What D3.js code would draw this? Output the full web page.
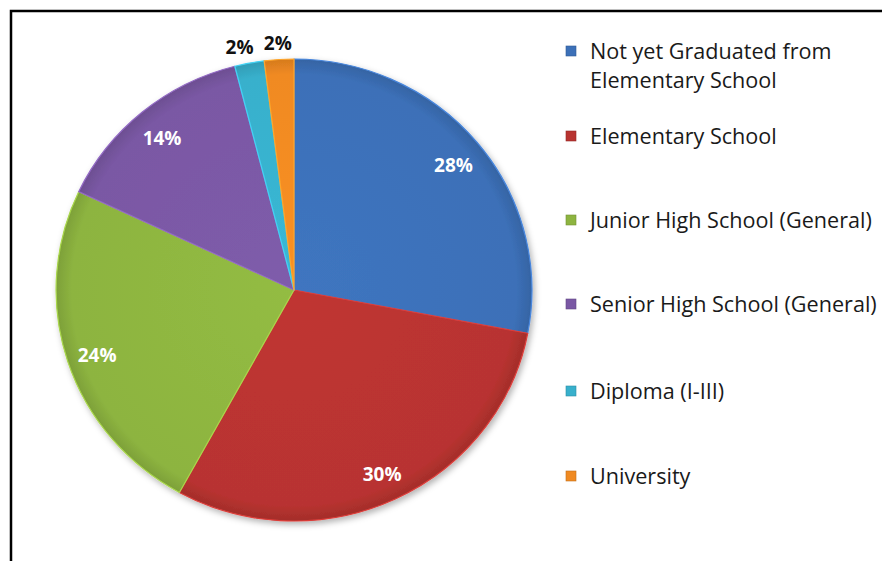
<!DOCTYPE html>
<html>
<head>
<meta charset="utf-8">
<script src="https://cdn.jsdelivr.net/npm/d3@7"></script>
<style>
  body { margin: 0; background: #fff; }
  svg { display: block; }
</style>
</head>
<body>
<svg id="chart" width="882" height="561"></svg>
<script>
// data
var categories = ["Not yet Graduated from Elementary School", "Elementary School", "Junior High School (General)",
  "Senior High School (General)", "Diploma (I-III)", "University"];
var legendLines = [["Not yet Graduated from", "Elementary School"], ["Elementary School"], ["Junior High School (General)"],
  ["Senior High School (General)"], ["Diploma (I-III)"], ["University"]];
var values = [28, 30, 24, 14, 2, 2];
var colours = ["#3c70b8", "#b83330", "#8db440", "#7a58a4", "#38b0cc", "#f08a22"];

var svg = d3.select("#chart");
var defs = svg.append("defs");

// frame
svg.append("rect")
  .attr("x", 11).attr("y", 11)
  .attr("width", 900).attr("height", 600)
  .attr("fill", "none").attr("stroke", "#000").attr("stroke-width", 2.5);

// shadow
var f = defs.append("filter").attr("id", "shadow").attr("x", "-10%").attr("y", "-10%").attr("width", "130%").attr("height", "130%");
f.append("feDropShadow").attr("dx", 2).attr("dy", 3).attr("stdDeviation", 3).attr("flood-opacity", 0.3);

// soft bevel gradient per colour
colours.forEach(function(c, i) {
  var g = defs.append("radialGradient").attr("id", "grad" + i)
    .attr("gradientUnits", "userSpaceOnUse")
    .attr("cx", 0).attr("cy", 0).attr("r", 232);
  g.append("stop").attr("offset", "0%").attr("stop-color", d3.color(c).brighter(0.12));
  g.append("stop").attr("offset", "93%").attr("stop-color", c);
  g.append("stop").attr("offset", "100%").attr("stop-color", d3.color(c).darker(0.35));
});

var cx = 294, cy = 290, radius = 231;

var pie = d3.pie().sort(null).value(function(d) { return d; });
var arc = d3.arc().innerRadius(0).outerRadius(radius);
var labelArc = d3.arc().innerRadius(radius * 0.87).outerRadius(radius * 0.87);
var outerArc = d3.arc().innerRadius(radius + 19).outerRadius(radius + 19);

// picture is slightly wider than tall
var g = svg.append("g").attr("transform", "translate(" + cx + "," + cy + ") scale(1.03,1)");
var arcs = pie(values);

g.append("g").attr("filter", "url(#shadow)")
  .selectAll("path")
  .data(arcs)
  .enter().append("path")
    .attr("d", arc)
    .attr("fill", function(d, i) { return "url(#grad" + i + ")"; })
    .attr("stroke", function(d, i) { return d3.color(colours[i]).brighter(0.5); })
    .attr("stroke-width", 1.2)
    .attr("stroke-linejoin", "round");

// value labels
var labels = svg.append("g").attr("transform", "translate(" + cx + "," + cy + ")");
labels.selectAll("text.val")
  .data(arcs)
  .enter().append("text")
    .attr("class", "val")
    .attr("transform", function(d) {
      var small = d.value < 5;
      var p = small ? outerArc.centroid(d) : labelArc.centroid(d);
      if (small && d.index === 4) p[0] -= 6;
      return "translate(" + (p[0] * 1.03) + "," + (p[1] + 3) + ")";
    })
    .attr("text-anchor", "middle")
    .attr("dy", "0.35em")
    .attr("font-family", "'Open Sans', sans-serif")
    .attr("font-weight", "bold")
    .attr("font-size", 19)
    .attr("fill", function(d) { return d.value < 5 ? "#111" : "#fff"; })
    .text(function(d) { return d.value + "%"; });

// legend
var legendY = [51, 136, 220, 304, 391, 476];
var legend = svg.append("g").attr("transform", "translate(566,0)");
var items = legend.selectAll("g.item")
  .data(categories)
  .enter().append("g")
    .attr("class", "item")
    .attr("transform", function(d, i) { return "translate(0," + legendY[i] + ")"; });

items.append("rect")
  .attr("x", 0).attr("y", -5)
  .attr("width", 10).attr("height", 10)
  .attr("fill", function(d, i) { return colours[i]; })
  .attr("stroke", function(d, i) { return d3.color(colours[i]).darker(0.6); })
  .attr("stroke-width", 0.6);

items.append("text")
  .attr("x", 24)
  .attr("font-family", "'Open Sans', sans-serif")
  .attr("font-size", 21.6)
  .attr("fill", "#1a1a1a")
  .selectAll("tspan")
  .data(function(d, i) { return legendLines[i]; })
  .enter().append("tspan")
    .attr("x", 24)
    .attr("y", function(d, j) { return j * 29; })
    .attr("dy", "0.35em")
    .text(function(d) { return d; });
</script>
</body>
</html>
